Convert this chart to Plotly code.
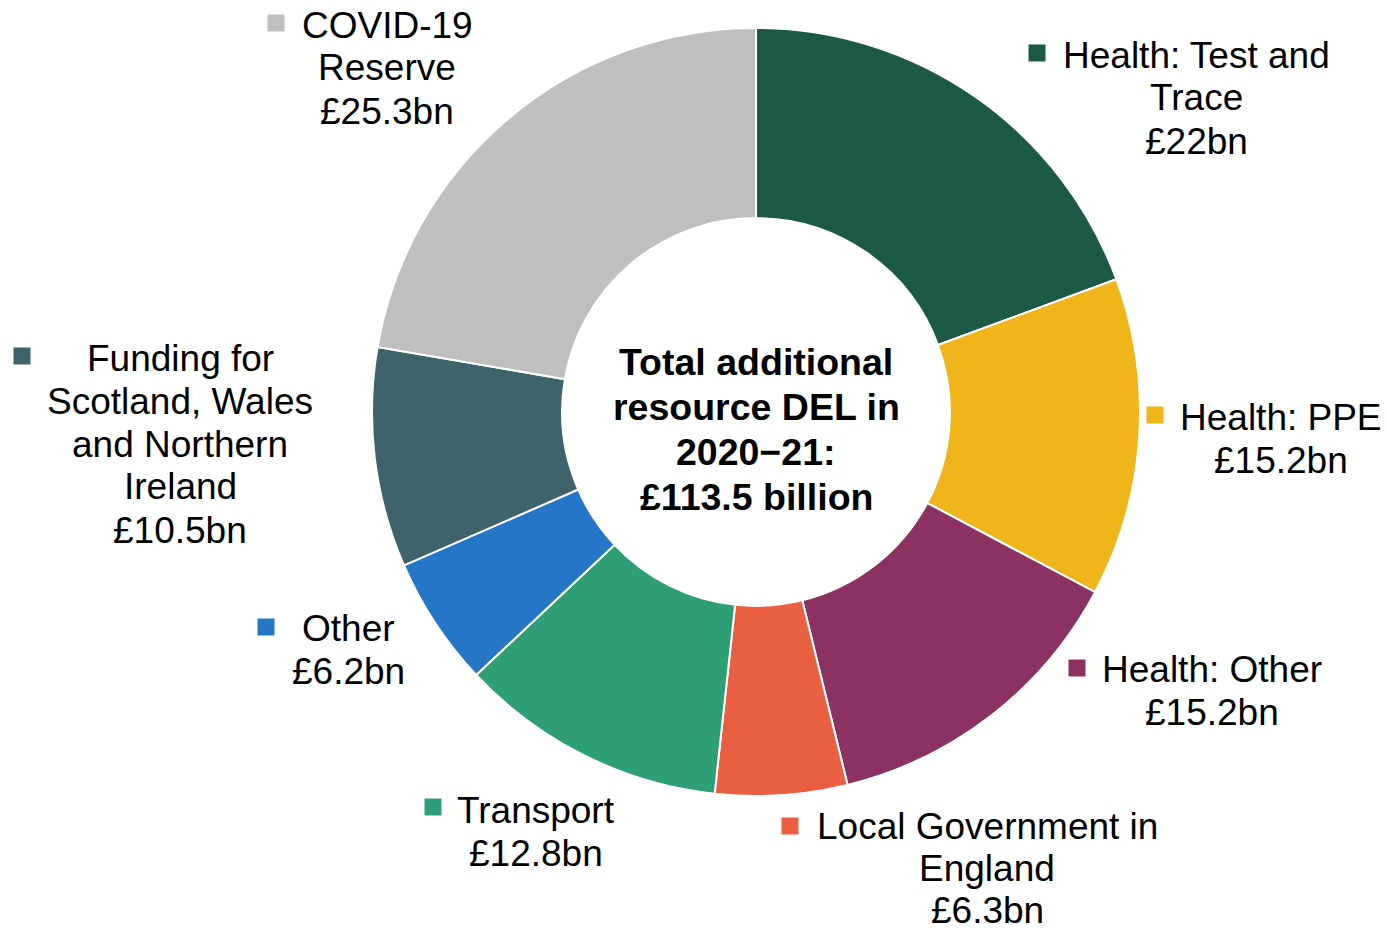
import plotly.graph_objects as go

W, H = 1387, 933

# Spending categories (clockwise from 12 o'clock) and amounts in £bn
categories = [
    "Health: Test and Trace",
    "Health: PPE",
    "Health: Other",
    "Local Government in England",
    "Transport",
    "Other",
    "Funding for Scotland, Wales and Northern Ireland",
    "COVID-19 Reserve",
]
values = [22, 15.2, 15.2, 6.3, 12.8, 6.2, 10.5, 25.3]
colors = ["#1d5a45", "#f0b51b", "#8c3262", "#ea5e42",
          "#2e9e75", "#2676c8", "#3e636b", "#bfbfbf"]

# Wrapped name lines for each category label
name_lines = [
    ["Health: Test and", "Trace"],
    ["Health: PPE"],
    ["Health: Other"],
    ["Local Government in", "England"],
    ["Transport"],
    ["Other"],
    ["Funding for", "Scotland, Wales", "and Northern", "Ireland"],
    ["COVID-19", "Reserve"],
]

centre_lines = ["Total additional", "resource DEL in", "2020\u221221:", "£113.5 billion"]

# Label layout in pixels: text centre x, first line y, line step, key square centre (x, y)
label_pos = [
    (1196, 55, 43, 1037, 53),
    (1281, 417, 43, 1155, 415),
    (1212, 669, 43, 1077, 668),
    (987, 826, 42, 790, 826),
    (536, 810, 43, 433, 807),
    (348, 628, 43, 266, 627),
    (180, 358, 43, 22, 356),
    (387, 25, 43, 276, 23),
]
FONT = "Liberation Sans, Arial, sans-serif"


def px(x):
    return x / W


def py(y):
    return 1 - y / H


fig = go.Figure(go.Pie(
    labels=categories,
    values=values,
    hole=0.505,
    sort=False,
    direction="clockwise",
    rotation=0,
    marker=dict(colors=colors, line=dict(color="white", width=2)),
    textinfo="none",
    hoverinfo="label+value",
    showlegend=False,
    domain=dict(x=[px(372), px(1140)], y=[py(796), py(28)]),
))

annotations = []
shapes = []
for name, val, col, lines, (cx, y0, step, sx, sy) in zip(
        categories, values, colors, name_lines, label_pos):
    all_lines = lines + [f"£{val:g}bn"]
    for i, line in enumerate(all_lines):
        annotations.append(dict(
            x=px(cx), y=py(y0 + i * step), xref="paper", yref="paper",
            text=line, showarrow=False, xanchor="center", yanchor="middle",
            font=dict(family=FONT, size=37, color="black"),
        ))
    half = 8.5
    shapes.append(dict(
        type="rect", xref="paper", yref="paper",
        x0=px(sx - half), x1=px(sx + half),
        y0=py(sy + half), y1=py(sy - half),
        fillcolor=col, line=dict(width=0),
    ))

for i, line in enumerate(centre_lines):
    annotations.append(dict(
        x=px(756), y=py(362 + i * 45), xref="paper", yref="paper",
        text=f"<b>{line}</b>", showarrow=False,
        xanchor="center", yanchor="middle",
        font=dict(family=FONT, size=37.5, color="black"),
    ))

fig.update_layout(
    width=W, height=H,
    margin=dict(l=0, r=0, t=0, b=0),
    paper_bgcolor="white",
    plot_bgcolor="white",
    annotations=annotations,
    shapes=shapes,
)

fig.write_html("out.html")
